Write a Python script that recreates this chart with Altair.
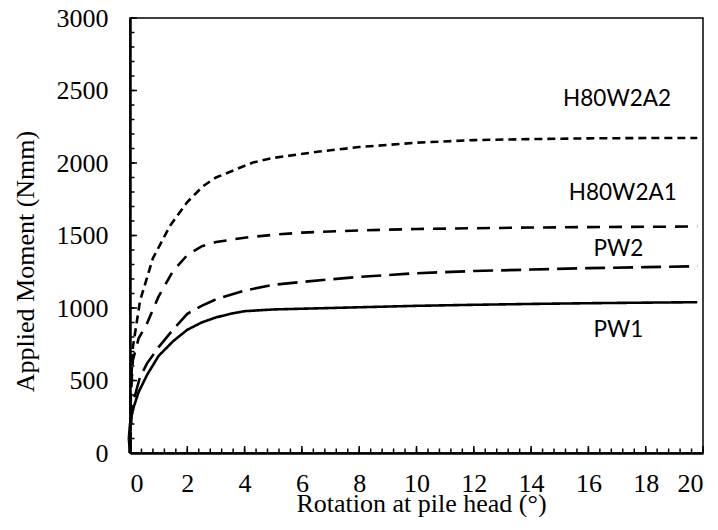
import altair as alt
import pandas as pd

series_names = ["PW1", "PW2", "H80W2A1", "H80W2A2"]

pw1_x = [0, -0.04, 0, 0.1, 0.3, 0.6, 1.0, 1.5, 2.0, 2.5, 3.0, 3.5, 4.0, 5.0, 6.0, 8.0, 10, 12, 14, 16, 18, 19.8]
pw1_y = [0, 100, 200, 300, 420, 540, 670, 770, 850, 900, 935, 960, 978, 990, 995, 1005, 1015, 1022, 1028, 1033, 1037, 1040]

pw2_x = [0, 0.05, 0.15, 0.35, 0.6, 1.0, 1.5, 2.0, 2.5, 3.0, 4.0, 5.0, 6.0, 8.0, 10, 12, 14, 16, 18, 19.8]
pw2_y = [0, 250, 380, 525, 620, 730, 850, 960, 1015, 1060, 1120, 1160, 1180, 1215, 1240, 1255, 1265, 1275, 1282, 1288]

a1_x = [0, 0.03, 0.1, 0.3, 0.58, 1.0, 1.5, 2.0, 2.5, 3.0, 4.0, 5.0, 6.0, 8, 10, 12, 14, 16, 18, 19.8]
a1_y = [0, 400, 641, 790, 888, 1080, 1254, 1365, 1425, 1455, 1485, 1505, 1520, 1535, 1545, 1550, 1555, 1558, 1560, 1562]

a2_x = [0, 0.03, 0.1, 0.35, 0.8, 1.4, 2.0, 2.55, 3.0, 4.3, 5, 6.6, 8, 10, 12, 14, 16, 18, 19.8]
a2_y = [0, 450, 729, 1050, 1343, 1568, 1731, 1840, 1900, 2004, 2035, 2079, 2110, 2140, 2158, 2165, 2170, 2172, 2172]

label_text = ["H80W2A2", "H80W2A1", "PW2", "PW1"]
label_x = [17.0, 17.2, 17.05, 17.05]
label_y = [2440, 1793, 1405, 845]

x_major = list(range(0, 21, 2))
x_minor = [round(i * 0.4, 1) for i in range(51)]
y_major = list(range(0, 3001, 500))
y_minor = list(range(0, 3001, 100))

W, H = 573, 435
MAJOR, MINOR = 7, 4.5

rows = []
for name, xs, ys in [("PW1", pw1_x, pw1_y), ("PW2", pw2_x, pw2_y),
                     ("H80W2A1", a1_x, a1_y), ("H80W2A2", a2_x, a2_y)]:
    for i, (xv, yv) in enumerate(zip(xs, ys)):
        rows.append({"series": name, "x": xv, "y": yv, "i": i})
df = pd.DataFrame(rows)
labels = pd.DataFrame({"text": label_text, "x": label_x, "y": label_y})

xscale = alt.Scale(domain=[0, 20], nice=False, zero=False)
yscale = alt.Scale(domain=[0, 3000], nice=False, zero=False)

x_axis = alt.Axis(values=x_major, title="Rotation at pile head (°)", orient="bottom",
                  ticks=False, labelPadding=17, labelOverlap=False, labelFlush=7,
                  grid=False, titleY=58, titleX=291, titleBaseline="alphabetic",
                  titleAlign="center")
y_axis = alt.Axis(values=y_major, title="Applied Moment (Nmm)", orient="left",
                  ticks=False, labelPadding=22, labelOverlap=False, grid=False,
                  format="d", titleX=-97, titleY=243, titleBaseline="alphabetic",
                  titleAlign="center", titleAngle=270)


def xticks(vals, size):
    return alt.Chart(pd.DataFrame({"v": vals})).mark_rule(color="black", strokeWidth=1.5).encode(
        x=alt.X("v:Q", scale=xscale, axis=None),
        y=alt.value(H), y2=alt.value(H - size),
    )


def yticks(vals, size):
    return alt.Chart(pd.DataFrame({"v": vals})).mark_rule(color="black", strokeWidth=1.5).encode(
        y=alt.Y("v:Q", scale=yscale, axis=None),
        x=alt.value(0), x2=alt.value(size),
    )


lines = alt.Chart(df).mark_line(strokeWidth=2.6, color="black", clip=False).encode(
    x=alt.X("x:Q", scale=xscale, axis=x_axis),
    y=alt.Y("y:Q", scale=yscale, axis=y_axis),
    strokeDash=alt.StrokeDash(
        "series:N",
        scale=alt.Scale(domain=series_names, range=[[1, 0], [20, 8], [13, 9], [8, 5]]),
        legend=None,
    ),
    detail="series:N",
    order="i:Q",
)

texts = alt.Chart(labels).mark_text(font="Lato", fontSize=22.5, color="black").encode(
    x=alt.X("x:Q", scale=xscale, axis=None),
    y=alt.Y("y:Q", scale=yscale, axis=None),
    text="text:N",
)

chart = alt.layer(
    xticks(x_minor, MINOR), xticks(x_major, MAJOR),
    yticks(y_minor, MINOR), yticks(y_major, MAJOR),
    lines, texts,
).resolve_axis(
    x="independent", y="independent"
).properties(
    width=W, height=H,
    autosize=alt.AutoSizeParams(type="none"),
    padding={"left": 122, "top": 10, "right": 7, "bottom": 64},
).configure_view(
    stroke="black", strokeWidth=1.5,
).configure_axis(
    domainColor="black", domainWidth=2.5,
    labelFont="Liberation Serif", labelFontSize=26, labelColor="black",
    titleFont="Liberation Serif", titleFontSize=26, titleColor="black",
    titleFontWeight="normal",
)

chart.save("out.html", embed_options={"renderer": "svg", "actions": False})
